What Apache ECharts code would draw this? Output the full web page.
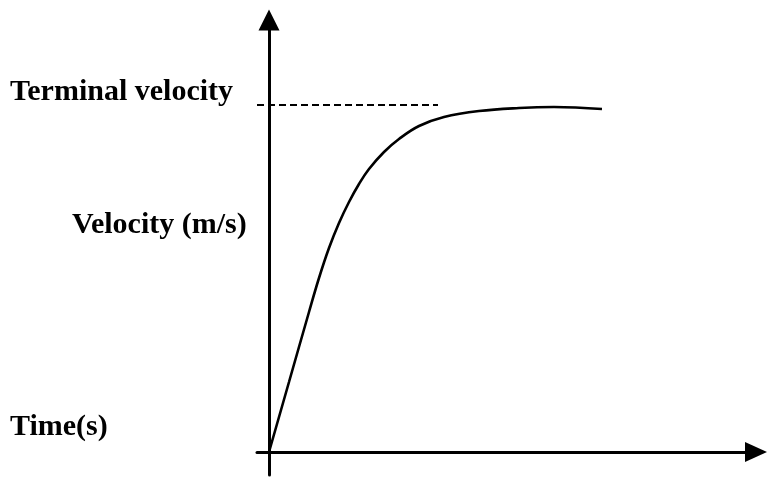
<!DOCTYPE html>
<html>
<head>
<meta charset="utf-8">
<script src="https://cdn.jsdelivr.net/npm/echarts@6/dist/echarts.min.js"></script>
<style>html,body{margin:0;padding:0;background:#fff}#c{width:779px;height:484px}</style>
</head>
<body>
<div id="c"></div>
<script>
// Velocity curve: [time, velocity] in arbitrary units (no ticks shown)
const curveTime     = [0, 20, 40, 50, 60, 70, 80, 90, 100, 115, 130, 150, 175, 210, 250, 285, 333];
const curveVelocity = [0, 70, 140, 174, 204, 229, 250, 268, 283, 300, 313, 326, 335, 341, 344, 345, 343];
// Terminal velocity reference (dashed)
const terminalTime = [-12, 169];
const terminalVelocity = 347;
// Labels
const labelTerminal = 'Terminal velocity';
const labelY = 'Velocity (m/s)';
const labelX = 'Time(s)';

const chart = echarts.init(document.getElementById('c'), null, {renderer: 'canvas'});
const font = '"Liberation Serif", "Times New Roman", serif';
chart.setOption({
  animation: false,
  backgroundColor: '#fff',
  grid: {left: 257, right: 23, top: 20, bottom: 9},
  xAxis: {
    type: 'value', min: -12, max: 487,
    axisLine: {onZero: true, symbol: ['none', 'triangle'], symbolSize: [20, 22], lineStyle: {color: '#000', width: 3}},
    axisTick: {show: false}, axisLabel: {show: false}, splitLine: {show: false}
  },
  yAxis: {
    type: 'value', min: -23, max: 432,
    axisLine: {onZero: true, symbol: ['none', 'triangle'], symbolSize: [21, 21], lineStyle: {color: '#000', width: 3}},
    axisTick: {show: false}, axisLabel: {show: false}, splitLine: {show: false}
  },
  series: [
    {
      type: 'line', smooth: 0.4, showSymbol: false,
      data: curveTime.map((t, i) => [t, curveVelocity[i]]),
      lineStyle: {color: '#000', width: 2.6}
    },
    {
      type: 'line', showSymbol: false,
      data: terminalTime.map(t => [t, terminalVelocity]),
      lineStyle: {color: '#000', width: 2, type: [7, 4]}
    }
  ],
  graphic: [
    {type: 'text', x: 10, y: 92, style: {text: labelTerminal, font: 'bold 30px ' + font, fill: '#000', align: 'left', verticalAlign: 'middle'}},
    {type: 'text', x: 72, y: 225, style: {text: labelY, font: 'bold 30px ' + font, fill: '#000', align: 'left', verticalAlign: 'middle'}},
    {type: 'text', x: 10, y: 427, style: {text: labelX, font: 'bold 30px ' + font, fill: '#000', align: 'left', verticalAlign: 'middle'}}
  ]
});
</script>
</body>
</html>
